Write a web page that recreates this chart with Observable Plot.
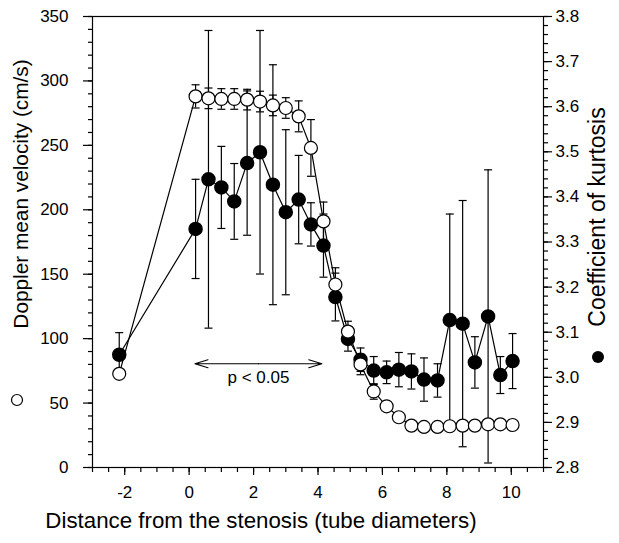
<!DOCTYPE html>
<html><head><meta charset="utf-8">
<script src="https://cdn.jsdelivr.net/npm/d3@7"></script>
<script src="https://cdn.jsdelivr.net/npm/@observablehq/plot@0.6"></script>
<style>body{margin:0;background:#fff} #chart svg{display:block}</style>
</head><body><div id="chart"></div>
<script>
// Distance from the stenosis (tube diameters)
const distance = [-2.17, 0.2, 0.6, 1.0, 1.4, 1.8, 2.2, 2.6, 3.0, 3.4, 3.78, 4.17, 4.54, 4.93, 5.32, 5.73, 6.13, 6.51, 6.9, 7.29, 7.71, 8.09, 8.49, 8.87, 9.28, 9.66, 10.04];
// Doppler mean velocity (cm/s), open circles
const velocity = [72.7, 288, 286.5, 286, 286, 285.5, 284, 281, 279, 272.5, 248, 191, 142, 105.5, 80, 59, 47.5, 39, 32.5, 31.5, 31.5, 32, 32.5, 32.5, 33.5, 33.5, 33];
const velocityErr = [3, 9, 8, 8, 8, 8, 8, 8, 8, 12, 22, 15, 13, 8, 8, 6, 3, 3, 3, 3, 3, 3, 3, 3, 3, 3, 3];
// Coefficient of kurtosis, filled circles
const kurtosis = [3.05, 3.329, 3.439, 3.421, 3.39, 3.475, 3.499, 3.427, 3.366, 3.394, 3.339, 3.292, 3.178, 3.085, 3.039, 3.015, 3.011, 3.017, 3.013, 2.995, 2.993, 3.127, 3.119, 3.033, 3.135, 3.005, 3.036];
const kurtosisErr = [0.049, 0.11, 0.33, 0.091, 0.084, 0.16, 0.27, 0.266, 0.183, 0.098, 0.048, 0.07, 0.053, 0.027, 0.026, 0.031, 0.025, 0.038, 0.039, 0.048, 0.037, 0.235, 0.273, 0.057, 0.325, 0.041, 0.061];

const xTicks = [-2, 0, 2, 4, 6, 8, 10];
const velocityTicks = [0, 50, 100, 150, 200, 250, 300, 350];
const kurtosisTicks = [2.8, 2.9, 3.0, 3.1, 3.2, 3.3, 3.4, 3.5, 3.6, 3.7, 3.8];

// significance annotation
const sigSpan = [0.18, 4.12];
const sigVelocity = 80.5;
const sigLabel = "p < 0.05";
const sigLabelVelocity = 69.8;

const kMin = 2.8, kMax = 3.8, vMax = 350;
const kToV = k => (k - kMin) / (kMax - kMin) * vMax;

const rows = distance.map((x, i) => ({
  x,
  v: velocity[i], vLo: velocity[i] - velocityErr[i], vHi: velocity[i] + velocityErr[i],
  k: kToV(kurtosis[i]), kLo: kToV(kurtosis[i] - kurtosisErr[i]), kHi: kToV(kurtosis[i] + kurtosisErr[i])
}));

const cap = {draw(ctx) { ctx.moveTo(-4, 0); ctx.lineTo(4, 0); }};
const font = "'Liberation Sans', Arial, Helvetica, sans-serif";
const sw = 1.2;
const mid = (sigSpan[0] + sigSpan[1]) / 2;

const chart = Plot.plot({
  width: 619, height: 543,
  marginLeft: 92, marginRight: 76, marginTop: 16, marginBottom: 76,
  style: {fontFamily: font, fontSize: "17px", background: "white", color: "black"},
  x: {domain: [-3, 11]},
  y: {domain: [0, vMax]},
  marks: [
    Plot.axisX(d3.range(-3, 11.001, 0.5), {tickSize: 5, tickFormat: () => "", label: null, strokeWidth: sw}),
    Plot.axisX(xTicks, {tickSize: 8, tickPadding: 10, tickFormat: d => String(d), label: null, fontSize: 17, strokeWidth: sw}),
    Plot.axisY(d3.range(0, 350.001, 10), {anchor: "left", tickSize: 4, tickFormat: () => "", label: null, strokeWidth: sw}),
    Plot.axisY(velocityTicks, {anchor: "left", tickSize: 9, tickPadding: 15, label: null, fontSize: 17, strokeWidth: sw}),
    Plot.axisY(d3.range(0, 50.001, 1).map(i => kToV(2.8 + i * 0.02)), {anchor: "right", tickSize: 4, tickFormat: () => "", label: null, strokeWidth: sw}),
    Plot.axisY(kurtosisTicks.map(kToV), {anchor: "right", tickSize: 8, tickPadding: 4, tickFormat: v => (kMin + v / vMax * (kMax - kMin)).toFixed(1), label: null, fontSize: 17, strokeWidth: sw}),
    Plot.frame({stroke: "black", strokeWidth: sw}),
    Plot.line(rows, {x: "x", y: "v", stroke: "black", strokeWidth: sw}),
    Plot.line(rows, {x: "x", y: "k", stroke: "black", strokeWidth: sw}),
    Plot.ruleX(rows, {x: "x", y1: "kLo", y2: "kHi", stroke: "black", strokeWidth: sw}),
    Plot.dot(rows, {x: "x", y: "kLo", symbol: cap, stroke: "black", strokeWidth: sw}),
    Plot.dot(rows, {x: "x", y: "kHi", symbol: cap, stroke: "black", strokeWidth: sw}),
    Plot.ruleX(rows, {x: "x", y1: "vLo", y2: "vHi", stroke: "black", strokeWidth: sw}),
    Plot.dot(rows, {x: "x", y: "vLo", symbol: cap, stroke: "black", strokeWidth: sw}),
    Plot.dot(rows, {x: "x", y: "vHi", symbol: cap, stroke: "black", strokeWidth: sw}),
    Plot.dot(rows, {x: "x", y: "k", r: 6.5, fill: "black", stroke: "black"}),
    Plot.dot(rows, {x: "x", y: "v", r: 6.5, fill: "white", stroke: "black", strokeWidth: sw}),
    Plot.arrow(sigSpan, {x1: () => mid, x2: d => d, y1: () => sigVelocity, y2: () => sigVelocity, headLength: 17, headAngle: 34, stroke: "black", strokeWidth: sw}),
    Plot.text([sigLabel], {x: () => mid, y: () => sigLabelVelocity, text: d => d, fontSize: 17, fill: "black"})
  ]
});

const svg = d3.select(chart);
svg.append("text").attr("x", 261).attr("y", 522).attr("text-anchor", "middle").attr("dominant-baseline", "middle")
  .attr("font-size", 22.3).attr("font-family", font).attr("fill", "black")
  .text("Distance from the stenosis (tube diameters)");
svg.append("text").attr("transform", "translate(22,194) rotate(-90)").attr("text-anchor", "middle").attr("dominant-baseline", "middle")
  .attr("font-size", 20.8).attr("font-family", font).attr("fill", "black")
  .text("Doppler mean velocity (cm/s)");
svg.append("circle").attr("cx", 17).attr("cy", 400).attr("r", 5.5).attr("fill", "white").attr("stroke", "black").attr("stroke-width", sw);
svg.append("text").attr("transform", "translate(599,217) rotate(-90)").attr("text-anchor", "middle").attr("dominant-baseline", "middle")
  .attr("font-size", 23).attr("font-family", font).attr("fill", "black")
  .text("Coefficient of kurtosis");
svg.append("circle").attr("cx", 598).attr("cy", 357).attr("r", 6).attr("fill", "black");

document.getElementById("chart").appendChild(chart);
</script>
</body></html>
